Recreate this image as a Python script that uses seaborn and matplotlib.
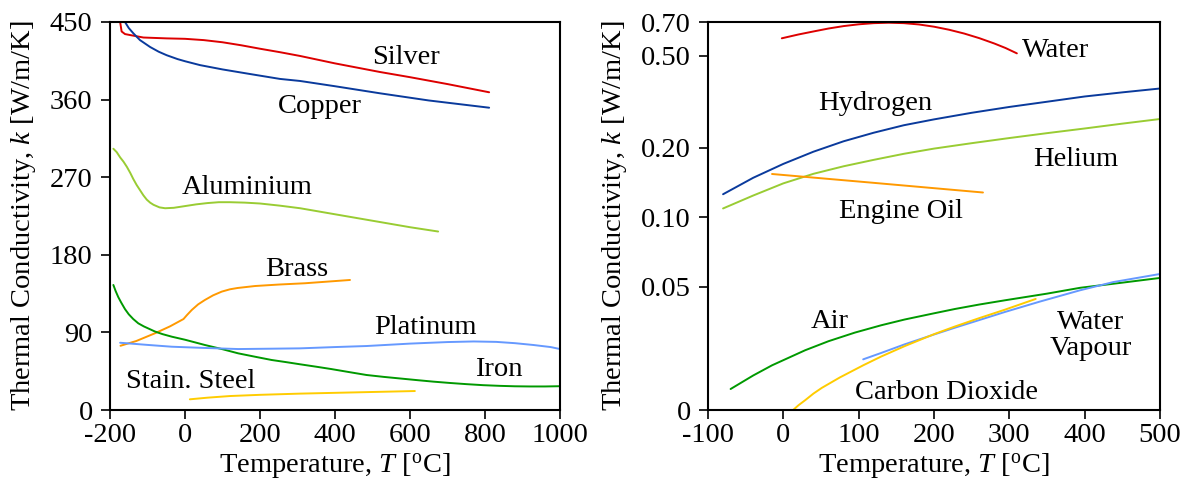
import matplotlib
matplotlib.use("Agg")
import matplotlib.pyplot as plt
from matplotlib.ticker import FixedLocator, FixedFormatter, NullLocator
import pandas as pd
import seaborn as sns

# ---- Metals: temperature [degC] and conductivity [W/m/K] ----
silver_T = [-173, -169, -160, -142, -111, -49, 0, 50, 100, 150, 200, 253, 307, 400, 520, 600, 700, 811]
silver_k = [450, 439, 436, 434.5, 432, 431, 430.5, 429, 426.5, 423, 419, 415, 410.6, 402, 392, 386, 378, 368.5]

copper_T = [-160, -150, -138, -120, -93, -70, -49, -20, 0, 40, 100, 173, 253, 307, 400, 520, 650, 811]
copper_k = [450, 443, 437, 429, 421, 415.5, 411.5, 407, 404.5, 400, 395, 389.7, 384, 381.6, 375.5, 367.3, 359, 350.6]

aluminium_T = [-191, -182, -173, -164, -155, -146, -138, -129, -120, -111, -102, -93, -84, -68, -53,
               -30, 0, 30, 60, 90, 120, 160, 200, 253, 307, 400, 520, 600, 675]
aluminium_k = [303, 299, 293, 288, 282, 275, 268, 261, 255, 249, 244, 240.5, 238, 235, 234,
               234.5, 236.5, 238.5, 240, 241, 241, 240.5, 239.5, 237, 234, 227, 218, 212, 207]

brass_T = [-172, -130, -80, -40, -4, 5, 18, 35, 53, 75, 98, 120, 140, 187, 250, 320, 440]
brass_k = [74.5, 80, 89, 97, 105.5, 110, 116, 122.5, 127.6, 133, 137.3, 140, 141.5, 143.8, 145.5, 147, 150.8]

iron_T = [-191, -185, -178, -170, -160, -150, -138, -124.5, -110, -95, -80, -60, -35, 0, 53, 100, 142,
          190, 231, 270, 307, 350, 390, 440, 484, 530, 575, 620, 662, 705, 750, 795, 840, 880, 920, 960, 1000]
iron_k = [145, 138, 131, 124.5, 117, 111, 105.5, 100.5, 97, 94, 91, 88, 85, 81.5, 75.4, 70.5, 65.7,
          61.5, 58, 55.5, 53, 50.2, 47.5, 43.8, 40.6, 38.4, 36.5, 34.6, 32.9, 31.4, 30, 28.8, 28, 27.5, 27.3, 27.3, 27.6]

platinum_T = [-173, -100, -35.5, 50, 142, 231, 307, 400, 484, 600, 700, 770, 830, 880, 929, 975, 1000]
platinum_k = [78, 75.5, 73.4, 72, 70.7, 71.1, 71.5, 73, 74.2, 77, 78.8, 79.5, 79, 77.5, 75.4, 73, 70.7]

steel_T = [13, 60, 120, 200, 307, 450, 613]
steel_k = [12.4, 14.3, 16.2, 17.6, 19.0, 20.4, 22.0]

# ---- Fluids: temperature [degC] and conductivity [W/m/K] ----
water_T = [-2, 20, 40, 60, 80, 100, 120, 140, 160, 180, 200, 220, 240, 260, 280, 295, 310]
water_k = [0.595, 0.618, 0.637, 0.656, 0.672, 0.684, 0.692, 0.695, 0.692, 0.683, 0.668, 0.648,
           0.624, 0.596, 0.565, 0.540, 0.512]

hydrogen_T = [-80, -40, 0, 40, 80, 120, 160, 200, 250, 300, 350, 400, 450, 500]
hydrogen_k = [0.1256, 0.148, 0.170, 0.192, 0.213, 0.232, 0.250, 0.265, 0.283, 0.300, 0.316, 0.333, 0.347, 0.3606]

helium_T = [-80, -40, 0, 40, 80, 120, 160, 200, 250, 300, 350, 400, 450, 500]
helium_k = [0.109, 0.124, 0.140, 0.154, 0.166, 0.177, 0.188, 0.198, 0.209, 0.220, 0.231, 0.242, 0.254, 0.266]

oil_T = [-15, 117, 265]
oil_k = [0.1537, 0.141, 0.1278]

air_T = [-70, -40, -15, 29, 60, 95, 130, 161, 200, 228, 260, 294, 350, 394, 450, 500]
air_k = [0.0180, 0.0206, 0.0228, 0.0265, 0.0290, 0.0316, 0.0340, 0.0360, 0.0383, 0.0400, 0.0418,
         0.0436, 0.0466, 0.0494, 0.0520, 0.0545]

vapour_T = [106, 130, 161, 200, 228, 260, 294, 340, 394, 438, 500]
vapour_k = [0.0242, 0.0258, 0.0281, 0.0310, 0.0332, 0.0358, 0.0388, 0.0430, 0.0482, 0.0523, 0.0567]

co2_T = [13, 20, 29, 40, 51, 75, 106, 130, 161, 200, 228, 260, 294, 335]
co2_k = [0.0146, 0.0153, 0.0161, 0.0172, 0.0182, 0.0202, 0.0228, 0.0249, 0.0276, 0.0311, 0.0336,
         0.0365, 0.0397, 0.0442]

# ---- Axis ticks ----
metal_xticks = [-200, 0, 200, 400, 600, 800, 1000]
metal_yticks = [0, 90, 180, 270, 360, 450]
fluid_xticks = [-100, 0, 100, 200, 300, 400, 500]
fluid_yticks = [0.0146, 0.05, 0.10, 0.20, 0.50, 0.70]
fluid_yticklabels = ["0", "0.05", "0.10", "0.20", "0.50", "0.70"]

RED, DBLUE, LGREEN, ORANGE, GREEN, LBLUE, GOLD = (
    "#dd0000", "#0a3a9c", "#99cc33", "#ff9900", "#009900", "#6699ff", "#ffcc00")

metals = {
    "Silver": (silver_T, silver_k, RED),
    "Copper": (copper_T, copper_k, DBLUE),
    "Aluminium": (aluminium_T, aluminium_k, LGREEN),
    "Brass": (brass_T, brass_k, ORANGE),
    "Iron": (iron_T, iron_k, GREEN),
    "Platinum": (platinum_T, platinum_k, LBLUE),
    "Stain. Steel": (steel_T, steel_k, GOLD),
}
fluids = {
    "Water": (water_T, water_k, RED),
    "Hydrogen": (hydrogen_T, hydrogen_k, DBLUE),
    "Helium": (helium_T, helium_k, LGREEN),
    "Engine Oil": (oil_T, oil_k, ORANGE),
    "Air": (air_T, air_k, GREEN),
    "Water Vapour": (vapour_T, vapour_k, LBLUE),
    "Carbon Dioxide": (co2_T, co2_k, GOLD),
}

# label anchors (T, k) -- baseline of the last text line, horizontally centred
metal_labels = {
    "Silver": (588, 401), "Copper": (359, 345), "Aluminium": (165, 251),
    "Brass": (297, 155), "Platinum": (642, 88), "Iron": (838, 39.4),
    "Stain. Steel": (16, 25),
}
fluid_labels = {
    "Water": (362, 0.495), "Hydrogen": (122, 0.292), "Helium": (388, 0.166),
    "Engine Oil": (156, 0.0988), "Air": (62, 0.0332),
    "Water\nVapour": (408, 0.0253), "Carbon Dioxide": (217, 0.01625),
}


def long_frame(series):
    return pd.concat(
        [pd.DataFrame({"T": t, "k": k, "name": n}) for n, (t, k, _) in series.items()],
        ignore_index=True)


sns.set_style("ticks")
plt.rcParams.update({
    "font.family": ["Liberation Serif", "DejaVu Serif"],
    "mathtext.fontset": "custom",
    "mathtext.rm": "Liberation Serif",
    "mathtext.it": "Liberation Serif:italic",
    "axes.unicode_minus": False,
    "text.color": "black",
    "axes.labelcolor": "black",
    "xtick.color": "black",
    "ytick.color": "black",
    "axes.edgecolor": "black",
})
FS = 20.5

fig = plt.figure(figsize=(11.9, 4.86), dpi=100)
ax1 = fig.add_axes([110 / 1190, 76 / 486, 450 / 1190, 388 / 486])
ax2 = fig.add_axes([708 / 1190, 76 / 486, 452 / 1190, 388 / 486])
ax2.set_yscale("log")

for ax, series in ((ax1, metals), (ax2, fluids)):
    df = long_frame(series)
    sns.lineplot(data=df, x="T", y="k", hue="name",
                 palette={n: c for n, (_, _, c) in series.items()},
                 estimator=None, sort=False, legend=False, ax=ax, linewidth=1.4)

ax1.set_xlim(-200, 1000)
ax1.set_ylim(0, 450)
ax1.set_xticks(metal_xticks)
ax1.set_yticks(metal_yticks)

ax2.set_xlim(-100, 500)
ax2.set_ylim(fluid_yticks[0], 0.70)
ax2.set_xticks(fluid_xticks)
ax2.yaxis.set_major_locator(FixedLocator(fluid_yticks))
ax2.yaxis.set_major_formatter(FixedFormatter(fluid_yticklabels))
ax2.yaxis.set_minor_locator(NullLocator())

for ax in (ax1, ax2):
    for sp in ax.spines.values():
        sp.set_visible(True)
        sp.set_linewidth(1.5)
        sp.set_color("black")
    ax.tick_params(axis="both", which="major", direction="out", length=6.5,
                   width=1.2, color="black", labelsize=FS, labelcolor="black")
    ax.tick_params(axis="x", pad=3)
    ax.tick_params(axis="y", pad=6)
    ax.set_xlabel(r"Temperature, $T$ [$^{\mathrm{o}}$C]", fontsize=FS, color="black")
    ax.set_ylabel(r"Thermal Conductivity, $k$ [W/m/K]", fontsize=FS, color="black")
    ax.xaxis.set_label_coords(0.5, -0.108)
    ax.grid(False)

ax1.yaxis.set_label_coords(-0.16, 0.5)
ax2.yaxis.set_label_coords(-0.175, 0.5)

for name, (t, k) in metal_labels.items():
    ax1.text(t, k, name, ha="center", va="baseline", fontsize=FS, color="black")
for name, (t, k) in fluid_labels.items():
    ax2.text(t, k, name, ha="center", va="baseline", fontsize=FS, color="black",
             multialignment="center", linespacing=1.05)

fig.savefig("out.png", dpi=100)
